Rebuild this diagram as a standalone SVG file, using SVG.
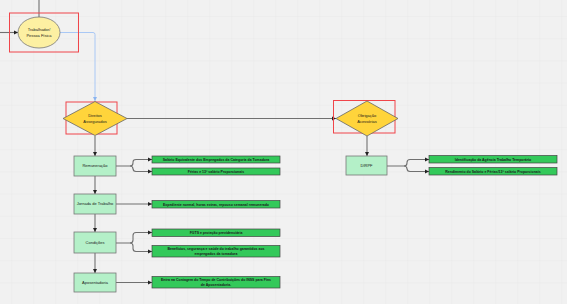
<svg xmlns="http://www.w3.org/2000/svg" width="567" height="304" viewBox="0 0 567 304">
<defs>
<pattern id="grid" x="11.3" y="16" width="22" height="22.2" patternUnits="userSpaceOnUse">
<path d="M0 0H22M0 0V22.2" fill="none" stroke="#e6e6e6" stroke-width="0.8"/>
</pattern>
<marker id="arr" viewBox="0 0 6 6" refX="6" refY="3" markerWidth="4" markerHeight="4" orient="auto">
<path d="M0 0L6 3L0 6z" fill="#222"/>
</marker>
<marker id="arrb" viewBox="0 0 6 6" refX="6" refY="3" markerWidth="4" markerHeight="4" orient="auto">
<path d="M0 0L6 3L0 6z" fill="#8ab4f0"/>
</marker>
<style>
text{font-family:"Liberation Sans",Arial,sans-serif;fill:#1a1a1a;text-anchor:middle}
.lbl{font-size:4px}
.sm{font-size:3.5px;font-weight:bold}
.hl{fill:none;stroke:#f0454a;stroke-width:1}
.dia{fill:#ffd43b;stroke:#666;stroke-width:0.8}
.box{fill:#b4f0c8;stroke:#777;stroke-width:0.8}
.leaf{fill:#33c95a;stroke:#444;stroke-width:0.7}
.ln{fill:none;stroke:#707070;stroke-width:1.1}
</style>
</defs>
<rect width="567" height="304" fill="#f1f1f1"/>
<rect width="567" height="304" fill="url(#grid)"/>

<g id="connectors">
<path class="ln" d="M39 0V17"/>
<path class="ln" d="M0 32.5H18" marker-end="url(#arr)"/>
<path d="M60 32.5H93Q95 32.5 95 34.5V101" fill="none" stroke="#a9c8f5" stroke-width="1" marker-end="url(#arrb)"/>
<path class="ln" d="M127 118.5H336" marker-end="url(#arr)"/>
<path class="ln" d="M95 136V156" marker-end="url(#arr)"/>
<path class="ln" d="M95 176V194" marker-end="url(#arr)"/>
<path class="ln" d="M95 214V232" marker-end="url(#arr)"/>
<path class="ln" d="M95 253V273" marker-end="url(#arr)"/>
<path class="ln" d="M116 166H130Q133 166 133 163V162Q133 159.5 136 159.5H152" marker-end="url(#arr)"/>
<path class="ln" d="M130 166Q133 166 133 169V168.5Q133 171.5 136 171.5H152" marker-end="url(#arr)"/>
<path class="ln" d="M116 204H152" marker-end="url(#arr)"/>
<path class="ln" d="M116 243H130Q133 243 133 240V235.5Q133 232.5 136 232.5H152" marker-end="url(#arr)"/>
<path class="ln" d="M130 243Q133 243 133 246V248.5Q133 251.5 136 251.5H152" marker-end="url(#arr)"/>
<path class="ln" d="M116 282.5H152" marker-end="url(#arr)"/>
<path class="ln" d="M367 136V156" marker-end="url(#arr)"/>
<path class="ln" d="M387 166H404Q407 166 407 163V162.5Q407 159.5 410 159.5H429" marker-end="url(#arr)"/>
<path class="ln" d="M404 166Q407 166 407 169V168.5Q407 171.5 410 171.5H429" marker-end="url(#arr)"/>
</g>

<g id="trabalhador">
<rect class="hl" x="9.5" y="13" width="69" height="39"/>
<ellipse cx="39" cy="32.5" rx="21" ry="15.5" fill="#fdf0a2" stroke="#777" stroke-width="0.8"/>
<text class="lbl" x="39" y="31">Trabalhador/</text>
<text class="lbl" x="39" y="36.5">Pessoa Física</text>
</g>

<g id="direitos">
<rect class="hl" x="66" y="102" width="51" height="32"/>
<path class="dia" d="M95 101.5L127 118.5L95 135.5L63 118.5Z"/>
<text class="lbl" x="95" y="117">Direitos</text>
<text class="lbl" x="95" y="122.5">Assegurados</text>
</g>

<g id="obrigacao">
<rect class="hl" x="333.5" y="100.5" width="61.5" height="32.5"/>
<path class="dia" d="M367 101L398 118.5L367 136L336 118.5Z"/>
<text class="lbl" x="367" y="117">Obrigação</text>
<text class="lbl" x="367" y="122.5">Acessórias</text>
</g>

<g id="remuneracao">
<rect class="box" x="74" y="156" width="42" height="20"/>
<text class="lbl" x="95" y="167.3">Remuneração</text>
</g>
<g id="jornada">
<rect class="box" x="74" y="194" width="42" height="20"/>
<text class="lbl" x="95" y="205.3">Jornada de Trabalho</text>
</g>
<g id="condicoes">
<rect class="box" x="74" y="232" width="42" height="21"/>
<text class="lbl" x="95" y="243.8">Condições</text>
</g>
<g id="aposentadoria">
<rect class="box" x="74" y="273" width="42" height="19"/>
<text class="lbl" x="95" y="283.8">Aposentadoria</text>
</g>
<g id="dirpf">
<rect class="box" x="346" y="156" width="41" height="19"/>
<text class="lbl" x="366.5" y="166.8">DIRPF</text>
</g>

<g id="salario">
<rect class="leaf" x="152" y="156" width="128" height="7"/>
<text class="sm" x="216" y="160.8">Salário Equivalente dos Empregados da Categoria da Tomadora</text>
</g>
<g id="ferias">
<rect class="leaf" x="152" y="168" width="128" height="7"/>
<text class="sm" x="216" y="172.8">Férias e 13° salário Proporcionais</text>
</g>
<g id="expediente">
<rect class="leaf" x="152" y="200.5" width="128" height="7.5"/>
<text class="sm" x="216" y="205.5">Expediente normal, horas extras, repouso semanal remunerado</text>
</g>
<g id="fgts">
<rect class="leaf" x="152" y="229" width="128" height="7.5"/>
<text class="sm" x="216" y="234">FGTS e proteção previdenciária</text>
</g>
<g id="beneficios">
<rect class="leaf" x="152" y="245.5" width="128" height="11.5"/>
<text class="sm" x="216" y="250.3">Benefícios, segurança e saúde do trabalho garantidos aos</text>
<text class="sm" x="216" y="254.8">empregados da tomadora</text>
</g>
<g id="contagem">
<rect class="leaf" x="152" y="276.5" width="128" height="11.5"/>
<text class="sm" x="216" y="281.3">Entra na Contagem do Tempo de Contribuições do INSS para Fins</text>
<text class="sm" x="216" y="285.8">de Aposentadoria.</text>
</g>
<g id="agencia">
<rect class="leaf" x="429" y="155.5" width="128" height="7.5"/>
<text class="sm" x="493" y="160.5">Identificação da Agência Trabalho Temporário</text>
</g>
<g id="rendimento">
<rect class="leaf" x="429" y="167.5" width="128" height="7.5"/>
<text class="sm" x="493" y="172.5">Rendimento do Salário e Férias/13° salário Proporcionais</text>
</g>
</svg>
